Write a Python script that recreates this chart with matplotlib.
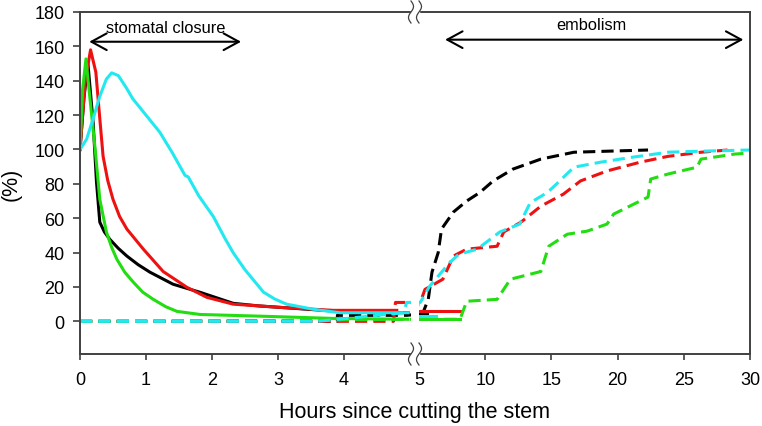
import numpy as np
import matplotlib
matplotlib.use('Agg')
import matplotlib.pyplot as plt
from matplotlib.lines import Line2D
from matplotlib.patches import Rectangle

plt.rcParams['font.family'] = ['Liberation Sans', 'DejaVu Sans']

# --- stomatal conductance (solid), first 5 hours ---
black_sx = [0, 0.06, 0.12, 0.2, 0.25, 0.30, 0.37, 0.45, 0.58, 0.71, 0.88, 1.06, 1.41, 1.82, 2.32, 2.7, 3.08, 3.84, 4.97]
black_sy = [100, 130, 150, 115, 81, 57.7, 52, 47.8, 42.5, 38, 33, 28.6, 21.6, 16.9, 10.5, 9, 8, 6, 5]
red_sx = [0, 0.08, 0.16, 0.24, 0.30, 0.35, 0.42, 0.5, 0.6, 0.71, 0.96, 1.26, 1.62, 1.92, 2.32, 2.7, 3.08, 3.84, 4.8]
red_sy = [100, 140, 158, 145, 118, 96, 82, 71, 61, 53.7, 42, 29, 19.8, 14, 10, 9, 8, 6.4, 6.4]
cyan_sx = [0, 0.1, 0.2, 0.3, 0.4, 0.48, 0.58, 0.7, 0.8, 1.0, 1.21, 1.4, 1.59, 1.64, 1.8, 2.02, 2.2, 2.32, 2.5,
           2.78, 2.95, 3.13, 3.54, 3.94, 4.97]
cyan_sy = [100, 106, 118, 131, 141, 144.6, 143, 136, 129.5, 120, 110, 98, 85, 84, 73, 61, 48, 40, 30,
           17, 13, 10, 7, 5, 5]
green_sx = [0, 0.04, 0.09, 0.15, 0.23, 0.30, 0.40, 0.48, 0.56, 0.68, 0.81, 0.95, 1.11, 1.3, 1.47, 1.82, 2.83, 3.84, 4.97]
green_sy = [100, 135, 152.7, 130, 100, 71, 52, 43, 36, 28.5, 22.7, 17, 12.8, 8.5, 5.8, 4, 2.9, 1.7, 1.2]

# short solid pieces after the break
black_rx = [5.05, 5.6]
black_ry = [5, 5]
red_rx = [5.05, 8.1]
red_ry = [5.8, 5.8]
cyan_rx = [5.05, 6.3]
cyan_ry = [3, 3]
green_rx = [5.05, 8.1]
green_ry = [1.2, 1.2]

# --- embolism (dashed) ---
black_dx = [0, 3.9, 3.9, 4.95, 5.1, 5.3, 5.7, 5.98, 6.45, 6.7, 7.6, 8.6, 9.6, 10.6, 12.1, 14.2, 16.7, 19.2, 22.3]
black_dy = [0, 0, 3.5, 3.5, 4, 5, 12.8, 28.6, 40, 53.7, 63.6, 70, 75, 81.7, 88.6, 94.4, 98.4, 99, 99.7]
red_dx = [0, 4.75, 4.78, 4.95, 5.1, 5.45, 6.8, 7.6, 8.6, 10.9, 11.4, 12.7, 14.2, 15.9, 17.2, 19.2, 21.7, 23.8, 26.3, 28.3]
red_dy = [0, 0, 11, 11, 11, 18.6, 24.5, 38, 42, 43.7, 52, 57.7, 67, 74, 81.7, 87.5, 92.6, 96, 98.4, 99.7]
cyan_dx = [0, 3.6, 4.9, 4.95, 5.1, 5.8, 7.3, 8.0, 9.4, 11.1, 12.6, 13.4, 14.7, 15.4, 16.7, 18.7, 21.2, 23.8, 26.3, 30]
cyan_dy = [0, 0, 5, 11, 11, 20.4, 34, 39, 42, 52, 56.6, 69, 75, 80, 89.7, 92.6, 95.6, 98.4, 99, 99.7]
green_dx = [0, 3.0, 4.95, 5.1, 8.1, 8.6, 10.9, 11.9, 14.2, 14.8, 16.2, 17.7, 19.2, 19.7, 22.3, 22.5, 23.8, 26.0, 26.3, 28.8, 30]
green_dy = [0, 0.5, 1.2, 1.2, 1.2, 11.7, 12.8, 24.5, 29, 43.7, 50.7, 52.5, 56.6, 62.4, 72.3, 82.8, 85.7, 89.7, 94.4, 97.3, 98]

colors = {"black": "#000000", "red": "#ee1111", "cyan": "#22e8f0", "green": "#22dd11"}

W, H = 762, 427
fig = plt.figure(figsize=(W / 100, H / 100), dpi=100)

# pixel layout of the two halves of the broken axis
x0, xb1, xb2, x1 = 80, 411, 419, 750
ytop, ybot = 13, 355
axL = fig.add_axes([x0 / W, 1 - ybot / H, (xb1 - x0) / W, (ybot - ytop) / H])
axR = fig.add_axes([xb2 / W, 1 - ybot / H, (x1 - xb2) / W, (ybot - ytop) / H])

lw = 2.2
dash = (4, 2)
series = [
    ("black", black_sx, black_sy, black_rx, black_ry, black_dx, black_dy),
    ("red", red_sx, red_sy, red_rx, red_ry, red_dx, red_dy),
    ("green", green_sx, green_sy, green_rx, green_ry, green_dx, green_dy),
    ("cyan", cyan_sx, cyan_sy, cyan_rx, cyan_ry, cyan_dx, cyan_dy),
]
for name, sx, sy, rx, ry, dx, dy in series:
    c = colors[name]
    for ax in (axL, axR):
        ax.plot(dx, dy, color=c, lw=lw, dashes=dash)
    axL.plot(sx, sy, color=c, lw=lw)
    axR.plot(rx, ry, color=c, lw=lw)

axL.set_xlim(0, (xb1 - x0) / 66.0)
axR.set_xlim(5, 30)
for ax in (axL, axR):
    ax.set_ylim(-19, 180)
    for s in ax.spines.values():
        s.set_color("#404040")
        s.set_linewidth(1.4)
    ax.tick_params(direction="out", length=4, width=1.2, color="#404040",
                   labelsize=13, pad=8)

axL.spines["right"].set_visible(False)
axR.spines["left"].set_visible(False)
axL.set_yticks(np.arange(0, 181, 20))
axL.tick_params(axis="y", length=5, pad=6)
axR.set_yticks([])
axL.set_xticks([0, 1, 2, 3, 4])
axR.set_xticks([5, 10, 15, 20, 25, 30])
axR.xaxis.get_major_ticks()[0].tick1line.set_visible(False)

axL.set_ylabel("(%)", fontsize=15.5, labelpad=9)
fig.text((x0 + x1) / 2 / W, 1 - 413 / H, "Hours since cutting the stem",
         fontsize=15.5, ha="center", va="center")

# annotations
arrow = dict(arrowstyle="<->,head_length=0.55,head_width=0.3", lw=1.5,
             color="black", shrinkA=0, shrinkB=0, mutation_scale=20)
axL.annotate("", xy=(0.14, 162.7), xytext=(2.44, 162.7), arrowprops=arrow)
axL.text(1.30, 170.8, "stomatal closure", fontsize=11.8, ha="center", va="center")
axR.annotate("", xy=(6.97, 163.9), xytext=(29.5, 163.9), arrowprops=arrow)
axR.text(18.0, 172.6, "embolism", fontsize=11.8, ha="center", va="center")

# break marks on top and bottom spines
t = np.linspace(-1, 1, 40)
for yc in (ytop, ybot):
    fig.add_artist(Rectangle((xb1 / W, 1 - (yc + 2) / H), (xb2 - xb1) / W, 4 / H,
                             transform=fig.transFigure, color="white", zorder=5))
    for xc in (xb1, xb2):
        xs = (xc - 2.5 * np.sin(np.pi * t)) / W
        ys = 1 - (yc + 11 * t) / H
        fig.add_artist(Line2D(xs, ys, transform=fig.transFigure, color="#404040",
                              lw=0.9, zorder=6))

fig.savefig("out.png", dpi=100)
